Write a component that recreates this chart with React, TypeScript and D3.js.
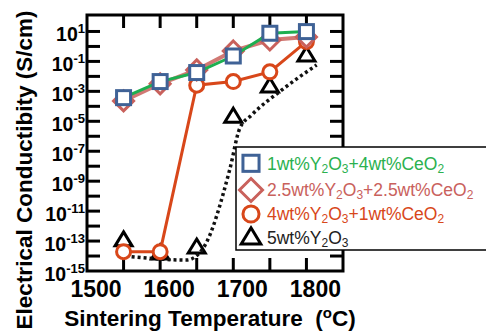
import React from "react";
import * as d3 from "d3";

const temps = [1550, 1600, 1650, 1700, 1750, 1800];
const seriesSquare = [3.8e-4, 4.5e-3, 1.8e-2, 0.23, 7.6, 9.8];
const seriesDiamond = [2.3e-4, 3.2e-3, 2.7e-2, 0.5, 2.7, 4.3];
const seriesCircle = [1.95e-14, 1.95e-14, 2.6e-3, 4.5e-3, 2.0e-2, 2.1];
const seriesTriangle = [1.2e-13, 1.6e-14, 4e-14, 2.2e-5, 2.3e-3, 0.27];
const trendTemps = [1561, 1636, 1659, 1695, 1709, 1725, 1766, 1814];
const trendValues = [9.1e-15, 5.4e-15, 3.5e-14, 5.6e-9, 3.5e-6, 2.6e-5, 1.2e-3, 5.8e-2];
const xTickValues = [1550, 1600, 1650, 1700, 1750, 1800];
const xLabelValues = [1500, 1600, 1700, 1800];
const yLabelExps = [1, -1, -3, -5, -7, -9, -11, -13, -15];
const yTickExps = [-14, -13, -12, -11, -10, -9, -8, -7, -6, -5, -4, -3, -2, -1, 0, 1];
const legendItems = [
  { parts: ["1wt%Y", "2", "O", "3", "+4wt%CeO", "2"], color: "#2bb14f", marker: "square" },
  { parts: ["2.5wt%Y", "2", "O", "3", "+2.5wt%CeO", "2"], color: "#c9615c", marker: "diamond" },
  { parts: ["4wt%Y", "2", "O", "3", "+1wt%CeO", "2"], color: "#d8471a", marker: "circle" },
  { parts: ["5wt%Y", "2", "O", "3"], color: "#222222", marker: "triangle" },
];

const BLUE = "#3f6296";
const GREEN = "#1daf50";
const ROSE = "#c9615c";
const ORANGE = "#d8471a";

const L = 87, R = 343, T = 15, B = 271;
const x = d3.scaleLinear().domain([1500, 1850]).range([L, R]);
const y = d3.scaleLog().domain([1e-15, Math.pow(10, 2.1)]).range([B, T]);

function Marker({ type, cx, cy, big }: { type: string; cx: number; cy: number; big?: boolean }) {
  const k = big ? 1.15 : 1;
  if (type === "square") {
    const s = 14 * k;
    return <rect x={cx - s / 2} y={cy - s / 2} width={s} height={s} fill="#fff" stroke={BLUE} strokeWidth={3} />;
  }
  if (type === "diamond") {
    const h = 10 * k;
    return (
      <path d={`M${cx},${cy - h}L${cx + h},${cy}L${cx},${cy + h}L${cx - h},${cy}Z`} fill="#fff" stroke={ROSE} strokeWidth={3} />
    );
  }
  if (type === "circle") {
    return <circle cx={cx} cy={cy} r={7 * k} fill="#fff" stroke={ORANGE} strokeWidth={3} />;
  }
  const w = 8.5 * k;
  return (
    <path d={`M${cx},${cy - 8 * k}L${cx + w},${cy + 6 * k}L${cx - w},${cy + 6 * k}Z`} fill="#fff" stroke="#000" strokeWidth={3} strokeLinejoin="miter" />
  );
}

export default function App() {
  const line = d3.line<number>().x((_, i) => x(temps[i])).y((v) => y(v));
  const trend = d3
    .line<number>()
    .x((_, i) => x(trendTemps[i]))
    .y((v) => y(v))
    .curve(d3.curveMonotoneX);
  const font = "'Liberation Sans', Arial, sans-serif";
  const tick = 13;

  return (
    <svg width={486} height={333} style={{ position: "absolute", left: 0, top: 0, background: "#fff" }} fontFamily={font}>
      {xTickValues.map((t) => (
        <g key={"xt" + t}>
          <line x1={x(t)} x2={x(t)} y1={B} y2={B - tick} stroke="#000" strokeWidth={3} />
          <line x1={x(t)} x2={x(t)} y1={T} y2={T + tick} stroke="#000" strokeWidth={3} />
        </g>
      ))}
      {yTickExps.map((e) => (
        <g key={"yt" + e}>
          <line x1={L} x2={L + tick} y1={y(Math.pow(10, e))} y2={y(Math.pow(10, e))} stroke="#000" strokeWidth={3} />
          <line x1={R} x2={R - tick} y1={y(Math.pow(10, e))} y2={y(Math.pow(10, e))} stroke="#000" strokeWidth={3} />
        </g>
      ))}
      <rect x={L} y={T} width={R - L} height={B - T} fill="none" stroke="#000" strokeWidth={3} />

      {seriesTriangle.map((v, i) => (
        <Marker key={"tr" + i} type="triangle" cx={x(temps[i])} cy={y(v)} />
      ))}
      <path d={trend(trendValues) || ""} fill="none" stroke="#111" strokeWidth={3.5} strokeDasharray="3 3" />

      <path d={line(seriesCircle) || ""} fill="none" stroke={ORANGE} strokeWidth={3} />
      {seriesCircle.map((v, i) => (
        <Marker key={"c" + i} type="circle" cx={x(temps[i])} cy={y(v)} />
      ))}

      <path d={line(seriesDiamond) || ""} fill="none" stroke={ROSE} strokeWidth={4} opacity={0.85} />
      {seriesDiamond.map((v, i) => (
        <Marker key={"d" + i} type="diamond" cx={x(temps[i])} cy={y(v)} />
      ))}

      <path d={line(seriesSquare) || ""} fill="none" stroke={GREEN} strokeWidth={3} />
      {seriesSquare.map((v, i) => (
        <Marker key={"s" + i} type="square" cx={x(temps[i])} cy={y(v)} />
      ))}

      {yLabelExps.map((e) => (
        <text key={"yl" + e} x={85} y={y(Math.pow(10, e)) + 10} textAnchor="end" fontSize={19.5} fontWeight="bold">
          10
          <tspan fontSize={13} dy={-8}>
            {e}
          </tspan>
        </text>
      ))}

      {xLabelValues.map((t) => (
        <text key={"xl" + t} x={x(t) + 9} y={297} textAnchor="middle" fontSize={23} fontWeight="bold">
          {t}
        </text>
      ))}

      <text x={210} y={326} textAnchor="middle" fontSize={22.5} fontWeight="bold" xmlSpace="preserve">
        {"Sintering Temperature  ("}
        <tspan fontSize={15} dy={-8}>o</tspan>
        <tspan dy={8}>C)</tspan>
      </text>
      <text transform="translate(32,170) rotate(-90)" textAnchor="middle" fontSize={22.5} fontWeight="bold">
        Electrical Conductibity (S/cm)
      </text>

      <rect x={236} y={147} width={260} height={103} fill="#fff" stroke="#000" strokeWidth={1.5} />
      {legendItems.map((it, i) => {
        const cy = [163.3, 190, 214, 237][i];
        const base = [169.5, 195.5, 220, 243.5][i];
        return (
          <g key={"lg" + i}>
            <Marker type={it.marker} cx={251} cy={cy} big />
            <text x={267} y={base} fontSize={17.5} fill={it.color}>
              {it.parts.map((p, j) =>
                j % 2 === 1 ? (
                  <tspan key={j} fontSize={12} dy={3}>
                    {p}
                  </tspan>
                ) : (
                  <tspan key={j} dy={j === 0 ? 0 : -3}>
                    {p}
                  </tspan>
                )
              )}
            </text>
          </g>
        );
      })}
    </svg>
  );
}
